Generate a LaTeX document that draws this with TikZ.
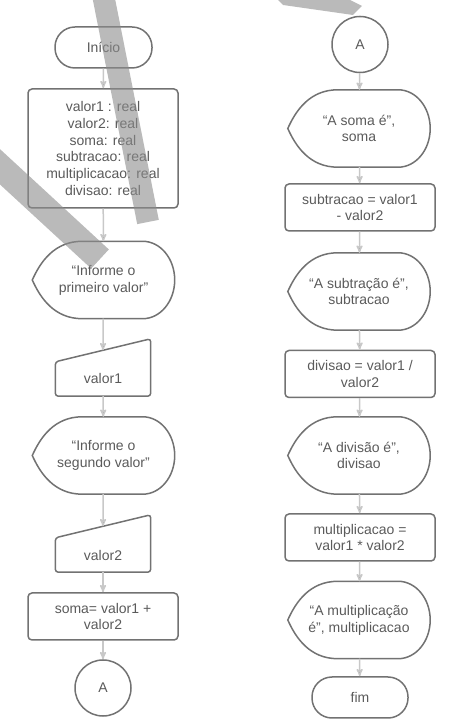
\documentclass[tikz,border=0pt]{standalone}
\usepackage{fontspec}
\setmainfont{Liberation Sans}
\usepackage{tikz}
\usetikzlibrary{arrows}
\usetikzlibrary{calc}

\definecolor{shapegray}{HTML}{727272}
\definecolor{textgray}{HTML}{5A5A5A}
\definecolor{flowgray}{HTML}{C8C8C8}

% outline of a display symbol around node #1
\newcommand{\displayoutline}[1]{%
  \draw [shapeline] (#1.west)
    .. controls +(8,18) and +(-28,0) .. ($(#1.north west)+(50,0)$)
    -- ($(#1.north east)+(-32,0)$)
    .. controls +(17.7,0) and +(0,21.3) .. (#1.east)
    .. controls +(0,-21.3) and +(17.7,0) .. ($(#1.south east)+(-32,0)$)
    -- ($(#1.south west)+(50,0)$)
    .. controls +(-28,0) and +(8,-18) .. (#1.west) -- cycle;}

% outline of a manual input symbol around node #1
\newcommand{\inputoutline}[1]{%
  \draw [shapeline,rounded corners=3pt] (#1.south west) -- (#1.north west)
    -- ($(#1.north east)+(0,23)$) -- (#1.south east) -- cycle;}

\begin{document}
\begin{tikzpicture}[x=1pt,y=1pt,
    every node/.style={font=\fontsize{14}{16.8}\selectfont,text=textgray,align=center,inner sep=0pt},
    shapeline/.style={draw=shapegray,line width=1.5pt},
    procbox/.style={shapeline,rectangle,rounded corners=4pt,minimum width=150pt},
    termbox/.style={shapeline,rectangle,rounded corners=20pt,minimum height=41pt},
    dispbox/.style={rectangle,minimum width=142pt,minimum height=77pt},
    inbox/.style={rectangle,minimum width=95pt,minimum height=34pt},
    connbox/.style={shapeline,circle,minimum size=56pt},
    flow/.style={draw=flowgray,line width=1.5pt,->,>=stealth'}]

  \useasboundingbox (0,0) rectangle (451,727);

  % left column
  \node [termbox,minimum width=97pt] (start) at (103.5,679.5) {Início};
  \node [procbox,minimum height=119pt] (decl) at (103,578.5)
    {valor1 : real\\valor2: real\\soma: real\\subtracao: real\\multiplicacao: real\\divisao: real};
  \node [dispbox] (ask1) at (103.5,447) {“Informe o\\primeiro valor”};
  \node [inbox] (val1) at (103,348) {valor1};
  \coordinate (val1top) at ($(val1.north)+(0,11.5)$);
  \node [dispbox] (ask2) at (103.5,271.5) {“Informe o\\segundo valor”};
  \node [inbox] (val2) at (103,172) {valor2};
  \coordinate (val2top) at ($(val2.north)+(0,11.5)$);
  \node [procbox,minimum height=47pt] (soma) at (103,110.5) {soma= valor1 +\\valor2};
  \node [connbox] (Aout) at (103,39) {A};

  % right column
  \node [connbox] (Ain) at (360,682.5) {A};
  \node [dispbox] (showsoma) at (359,598.5) {“A soma é”,\\soma};
  \node [procbox,minimum height=47pt] (sub) at (360,519.5) {subtracao = valor1\\- valor2};
  \node [dispbox] (showsub) at (359,435.5) {“A subtração é”,\\subtracao};
  \node [procbox,minimum height=47pt] (div) at (360,353) {divisao = valor1 /\\valor2};
  \node [dispbox] (showdiv) at (359,271.5) {“A divisão é”,\\divisao};
  \node [procbox,minimum height=47pt] (mult) at (360,189.5) {multiplicacao =\\valor1 * valor2};
  \node [dispbox] (showmult) at (359,107) {“A multiplicação\\é”, multiplicacao};
  \node [termbox,minimum width=96pt] (fim) at (360,29.5) {fim};

  \displayoutline{ask1}
  \displayoutline{ask2}
  \displayoutline{showsoma}
  \displayoutline{showsub}
  \displayoutline{showdiv}
  \displayoutline{showmult}
  \inputoutline{val1}
  \inputoutline{val2}

  \path [flow]
    (start)    edge (decl)
    (decl)     edge (ask1)
    (ask1)     edge (val1top)
    (val1)     edge (ask2)
    (ask2)     edge (val2top)
    (val2)     edge (soma)
    (soma)     edge (Aout)

    (Ain)      edge (showsoma)
    (showsoma) edge (sub)
    (sub)      edge (showsub)
    (showsub)  edge (div)
    (div)      edge (showdiv)
    (showdiv)  edge (mult)
    (mult)     edge (showmult)
    (showmult) edge (fim);

  % grey stripes lying over the scan
  \begin{scope}
    \clip (0,0) rectangle (451,727);
    \draw [black!45,opacity=0.6,line width=22pt] (102.5,735) -- (148,505);
    \draw [black!45,opacity=0.6,line width=26pt] (-15,574) -- (100,468);
    \fill [black!45,opacity=0.6] (278,727) -- (350,727) -- (362,721) -- (353,712) -- (283,722) -- cycle;
  \end{scope}

\end{tikzpicture}
\end{document}
